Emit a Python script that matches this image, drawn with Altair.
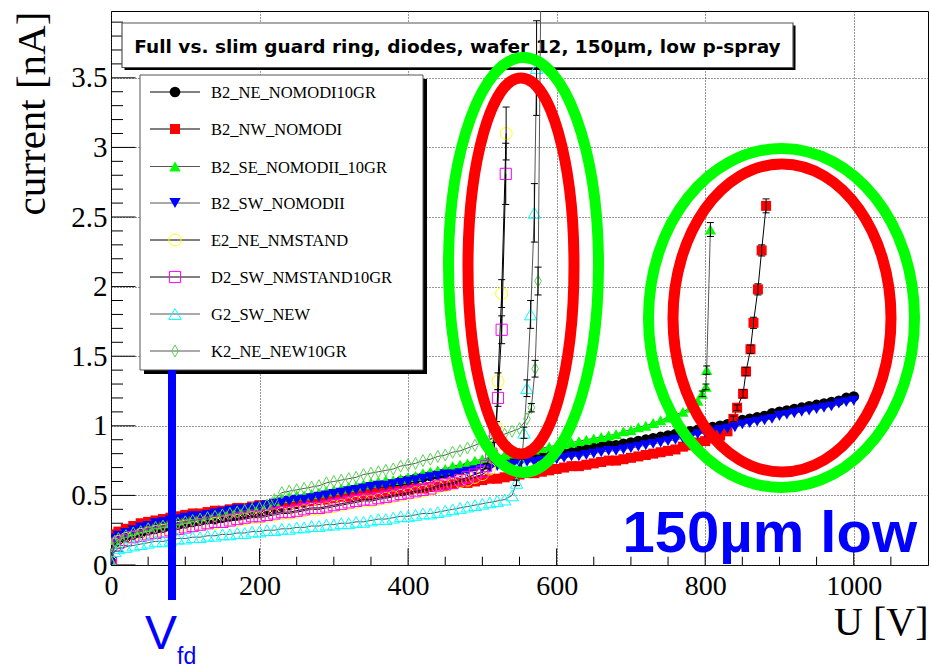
import altair as alt
import pandas as pd

# ---------------- data ----------------
VOLTS = [0, 5, 10, 20, 30, 40, 50, 60, 70, 80, 90, 100, 110, 120, 130, 140, 150, 160, 170, 180, 190,
         200, 210, 220, 230, 240, 250, 260, 270, 280, 290, 300, 310, 320, 330, 340, 350, 360, 370, 380,
         390, 400, 410, 420, 430, 440, 450, 460, 470, 480, 490, 500, 510, 520, 530, 540, 550, 560, 570,
         580, 590, 600, 610, 620, 630, 640, 650, 660, 670, 680, 690, 700, 710, 720, 730, 740, 750, 760,
         770, 780, 790, 800, 810, 820, 830, 840, 850, 860, 870, 880, 890, 900, 910, 920, 930, 940, 950,
         960, 970, 980, 990, 1000]

NAMES = ["B2_NE_NOMODI10GR", "B2_NW_NOMODI", "B2_SE_NOMODII_10GR", "B2_SW_NOMODII",
         "E2_NE_NMSTAND", "D2_SW_NMSTAND10GR", "G2_SW_NEW", "K2_NE_NEW10GR"]

I_B2_NE = [0.02, 0.16, 0.18, 0.20, 0.22, 0.23, 0.25, 0.26, 0.27, 0.28, 0.29, 0.30,
           0.31, 0.32, 0.33, 0.33, 0.34, 0.35, 0.36, 0.37, 0.38, 0.39,
           0.40, 0.41, 0.42, 0.43, 0.44, 0.45, 0.46, 0.47, 0.48, 0.49,
           0.50, 0.51, 0.53, 0.54, 0.55, 0.56, 0.57, 0.58, 0.60, 0.61,
           0.62, 0.63, 0.64, 0.65, 0.66, 0.67, 0.68, 0.70, 0.71, 0.72,
           0.73, 0.74, 0.74, 0.75, 0.76, 0.77, 0.77, 0.78, 0.78, 0.79,
           0.80, 0.81, 0.82, 0.83, 0.84, 0.85, 0.86, 0.86, 0.87, 0.88,
           0.89, 0.90, 0.91, 0.92, 0.93, 0.94, 0.95, 0.96, 0.97, 0.98,
           0.99, 1.00, 1.01, 1.03, 1.04, 1.05, 1.06, 1.07, 1.09, 1.10,
           1.11, 1.12, 1.13, 1.14, 1.15, 1.16, 1.17, 1.18, 1.20, 1.21]
I_B2_NW = [0.03, 0.22, 0.24, 0.26, 0.28, 0.30, 0.31, 0.32, 0.33, 0.34, 0.35, 0.36,
           0.37, 0.37, 0.38, 0.39, 0.39, 0.40, 0.41, 0.41, 0.42, 0.43,
           0.43, 0.44, 0.44, 0.45, 0.45, 0.46, 0.46, 0.47, 0.47, 0.48,
           0.49, 0.49, 0.50, 0.50, 0.51, 0.52, 0.52, 0.53, 0.53, 0.54,
           0.55, 0.55, 0.56, 0.57, 0.57, 0.58, 0.59, 0.59, 0.60, 0.61,
           0.62, 0.62, 0.63, 0.64, 0.65, 0.66, 0.66, 0.67, 0.68, 0.69,
           0.70, 0.71, 0.71, 0.72, 0.73, 0.74, 0.75, 0.75, 0.76, 0.77,
           0.78, 0.79, 0.80, 0.81, 0.82, 0.83, 0.85, 0.86, 0.88, 0.89,
           0.91, 0.93, 0.96]
I_B2_SE = [0.02, 0.18, 0.20, 0.22, 0.24, 0.26, 0.27, 0.29, 0.30, 0.31, 0.32, 0.33,
           0.34, 0.35, 0.36, 0.37, 0.38, 0.39, 0.40, 0.41, 0.42, 0.43,
           0.44, 0.46, 0.48, 0.49, 0.50, 0.50, 0.51, 0.52, 0.53, 0.54,
           0.55, 0.56, 0.57, 0.58, 0.59, 0.60, 0.61, 0.61, 0.62, 0.63,
           0.64, 0.66, 0.67, 0.68, 0.69, 0.71, 0.72, 0.73, 0.75, 0.76,
           0.77, 0.78, 0.79, 0.80, 0.81, 0.82, 0.83, 0.84, 0.85, 0.86,
           0.87, 0.88, 0.89, 0.90, 0.91, 0.92, 0.93, 0.94, 0.96, 0.97,
           0.99, 1.00, 1.02, 1.04, 1.06, 1.08, 1.10, 1.13, 1.18]
I_B2_SW = [0.02, 0.19, 0.21, 0.23, 0.25, 0.27, 0.28, 0.30, 0.31, 0.32, 0.33, 0.34,
           0.35, 0.35, 0.36, 0.37, 0.38, 0.39, 0.40, 0.40, 0.41, 0.42,
           0.43, 0.44, 0.45, 0.46, 0.47, 0.47, 0.48, 0.49, 0.50, 0.51,
           0.52, 0.53, 0.54, 0.55, 0.56, 0.57, 0.57, 0.58, 0.59, 0.60,
           0.61, 0.62, 0.63, 0.64, 0.65, 0.65, 0.66, 0.67, 0.68, 0.69,
           0.70, 0.71, 0.71, 0.72, 0.73, 0.74, 0.74, 0.75, 0.75, 0.76,
           0.77, 0.78, 0.78, 0.79, 0.80, 0.81, 0.82, 0.82, 0.83, 0.84,
           0.85, 0.86, 0.87, 0.88, 0.89, 0.90, 0.91, 0.92, 0.94, 0.95,
           0.96, 0.97, 0.98, 0.99, 1.01, 1.02, 1.03, 1.04, 1.05, 1.07,
           1.08, 1.09, 1.10, 1.11, 1.12, 1.13, 1.14, 1.16, 1.17, 1.18]
I_E2_NE = [0.02, 0.15, 0.17, 0.19, 0.20, 0.22, 0.23, 0.24, 0.25, 0.26, 0.27, 0.28,
           0.28, 0.29, 0.30, 0.30, 0.31, 0.32, 0.32, 0.33, 0.34, 0.34,
           0.35, 0.36, 0.37, 0.37, 0.38, 0.39, 0.40, 0.40, 0.41, 0.42,
           0.43, 0.44, 0.45, 0.46, 0.46, 0.47, 0.48, 0.49, 0.50, 0.51,
           0.52, 0.53, 0.54, 0.56, 0.57, 0.58, 0.60, 0.61, 0.63, 0.65,
           0.69]
I_D2_SW = [0.02, 0.14, 0.16, 0.18, 0.20, 0.21, 0.22, 0.23, 0.24, 0.25, 0.26, 0.27,
           0.28, 0.29, 0.30, 0.31, 0.31, 0.32, 0.33, 0.34, 0.35, 0.35,
           0.36, 0.37, 0.38, 0.38, 0.39, 0.40, 0.41, 0.41, 0.42, 0.43,
           0.44, 0.45, 0.46, 0.47, 0.47, 0.48, 0.49, 0.50, 0.51, 0.52,
           0.53, 0.54, 0.55, 0.57, 0.58, 0.59, 0.61, 0.63, 0.65, 0.67]
I_G2_SW = [0.02, 0.10, 0.12, 0.13, 0.14, 0.15, 0.16, 0.17, 0.17, 0.18, 0.19, 0.19,
           0.20, 0.20, 0.21, 0.21, 0.22, 0.22, 0.23, 0.23, 0.24, 0.24,
           0.25, 0.25, 0.26, 0.26, 0.27, 0.27, 0.28, 0.28, 0.29, 0.29,
           0.30, 0.30, 0.31, 0.31, 0.32, 0.33, 0.33, 0.34, 0.35, 0.35,
           0.36, 0.37, 0.37, 0.38, 0.39, 0.40, 0.41, 0.42, 0.43, 0.44,
           0.45, 0.46, 0.47, 0.50]
I_K2_NE = [0.02, 0.17, 0.19, 0.21, 0.23, 0.24, 0.26, 0.27, 0.28, 0.29, 0.30, 0.31,
           0.32, 0.33, 0.34, 0.35, 0.36, 0.37, 0.38, 0.39, 0.40, 0.41,
           0.43, 0.47, 0.52, 0.53, 0.54, 0.55, 0.56, 0.57, 0.59, 0.60,
           0.61, 0.62, 0.63, 0.65, 0.66, 0.67, 0.68, 0.69, 0.71, 0.72,
           0.73, 0.75, 0.76, 0.78, 0.79, 0.81, 0.82, 0.84, 0.86, 0.88,
           0.90, 0.92, 0.94, 0.96, 0.98, 1.05]

# breakdown tails: voltage, current, error
TAIL_V = {
    "B2_NW_NOMODI": [838, 843, 851, 855, 861, 865, 871, 876, 882],
    "B2_SE_NOMODII_10GR": [796, 801, 802, 807],
    "E2_NE_NMSTAND": [516, 519, 521, 526, 532],
    "D2_SW_NMSTAND10GR": [505, 512, 517, 521, 526, 531.5],
    "G2_SW_NEW": [546, 553, 556, 560, 565, 570, 573],
    "K2_NE_NEW10GR": [566, 571, 575, 579],
}
TAIL_I = {
    "B2_NW_NOMODI": [1.05, 1.13, 1.23, 1.39, 1.55, 1.74, 1.98, 2.26, 2.58],
    "B2_SE_NOMODII_10GR": [1.23, 1.28, 1.40, 2.41],
    "E2_NE_NMSTAND": [0.85, 0.99, 1.32, 1.95, 3.10],
    "D2_SW_NMSTAND10GR": [0.71, 0.80, 0.95, 1.20, 1.69, 2.81],
    "G2_SW_NEW": [0.59, 0.73, 0.95, 1.27, 1.80, 2.53, 3.57],
    "K2_NE_NEW10GR": [1.13, 1.41, 2.04, 4.30],
}
TAIL_ERR = {
    "B2_NW_NOMODI": [0.02, 0.02, 0.03, 0.03, 0.03, 0.04, 0.04, 0.04, 0.05],
    "B2_SE_NOMODII_10GR": [0.02, 0.02, 0.03, 0.05],
    "E2_NE_NMSTAND": [0.03, 0.04, 0.06, 0.10, 0.19],
    "D2_SW_NMSTAND10GR": [0.02, 0.03, 0.04, 0.06, 0.10, 0.22],
    "G2_SW_NEW": [0.02, 0.03, 0.04, 0.06, 0.10, 0.21, 0.34],
    "K2_NE_NEW10GR": [0.03, 0.06, 0.10, 0.30],
}
MAIN_I = dict(zip(NAMES, [I_B2_NE, I_B2_NW, I_B2_SE, I_B2_SW, I_E2_NE, I_D2_SW, I_G2_SW, I_K2_NE]))

X_MAJOR = [0, 200, 400, 600, 800, 1000]
X_MINOR = [50, 100, 150, 250, 300, 350, 450, 500, 550, 650, 700, 750, 850, 900, 950, 1050]
Y_MAJOR = [0, 0.5, 1, 1.5, 2, 2.5, 3, 3.5]
Y_MINOR = [0.1, 0.2, 0.3, 0.4, 0.6, 0.7, 0.8, 0.9, 1.1, 1.2, 1.3, 1.4, 1.6, 1.7, 1.8, 1.9,
           2.1, 2.2, 2.3, 2.4, 2.6, 2.7, 2.8, 2.9, 3.1, 3.2, 3.3, 3.4, 3.6, 3.7, 3.8, 3.9]

# ---------------- layout / style ----------------
W, H = 817, 554
X_MAX, Y_MAX = 1100, 3.98
SERIF = "Liberation Serif"
SANS = "Liberation Sans"
BLUE = "#0000ff"

DIAMOND = "M0,-1L0.55,0L0,1L-0.55,0Z"
STYLES = {
    "B2_NE_NOMODI10GR": dict(shape="circle", filled=True, color="#000000", size=115, line="#000000"),
    "B2_NW_NOMODI": dict(shape="square", filled=True, color="#ff0000", size=100, line="#000000"),
    "B2_SE_NOMODII_10GR": dict(shape="triangle-up", filled=True, color="#00ff00", size=130, line="#555555"),
    "B2_SW_NOMODII": dict(shape="triangle-down", filled=True, color="#0000ff", size=130, line="#555555"),
    "E2_NE_NMSTAND": dict(shape="circle", filled=False, color="#ffff00", size=145, line="#000000"),
    "D2_SW_NMSTAND10GR": dict(shape="square", filled=False, color="#ff00ff", size=125, line="#000000"),
    "G2_SW_NEW": dict(shape="triangle-up", filled=False, color="#00ffff", size=155, line="#555555"),
    "K2_NE_NEW10GR": dict(shape=DIAMOND, filled=False, color="#59d454", size=145, line="#555555"),
}

X_SCALE = alt.Scale(domain=[0, X_MAX], nice=False, zero=False)
Y_SCALE = alt.Scale(domain=[0, Y_MAX], nice=False, zero=False)
X_AXIS = alt.Axis(values=X_MAJOR, format="d", tickSize=0, domain=False, grid=True, gridColor="#333333",
                  gridDash=[1, 2], gridWidth=1, labelFont=SERIF, labelFontSize=28, labelColor="#000",
                  labelPadding=7, labelFlush=False, labelOverlap=False, title="U [V]",
                  titleFont=SERIF, titleFontSize=40, titleFontWeight="normal", titleColor="#000",
                  titleX=W, titleY=69, titleAlign="right", titleBaseline="alphabetic")
Y_AXIS = alt.Axis(values=Y_MAJOR, format="~g", tickSize=0, domain=False, grid=True, gridColor="#333333",
                  gridDash=[1, 2], gridWidth=1, labelFont=SERIF, labelFontSize=29, labelColor="#000",
                  labelPadding=4, labelFlush=False, labelOverlap=False, title="current [nA]",
                  titleFont=SERIF, titleFontSize=41, titleFontWeight="normal", titleColor="#000",
                  titleAngle=270, titleX=-79, titleY=102, titleAlign="center", titleBaseline="middle")


def xq(field="V"):
    return alt.X(f"{field}:Q", scale=X_SCALE, axis=X_AXIS)


def yq(field="I"):
    return alt.Y(f"{field}:Q", scale=Y_SCALE, axis=Y_AXIS)


def one_row(**kw):
    return pd.DataFrame([kw if kw else {"k": 0}])


def marker(st):
    if st["filled"]:
        return dict(shape=st["shape"], filled=True, color=st["color"], size=st["size"],
                    opacity=1, strokeWidth=0)
    return dict(shape=st["shape"], filled=False, color=st["color"], size=st["size"],
                opacity=1, strokeWidth=1)


layers = []

# inside ticks (ROOT style)
layers.append(alt.Chart(pd.DataFrame({"I": Y_MAJOR})).mark_rule(color="#000", strokeWidth=1).encode(
    y=yq(), x=alt.value(0), x2=alt.value(24.5)))
layers.append(alt.Chart(pd.DataFrame({"I": Y_MINOR})).mark_rule(color="#000", strokeWidth=1).encode(
    y=yq(), x=alt.value(0), x2=alt.value(12)))
layers.append(alt.Chart(pd.DataFrame({"V": X_MAJOR})).mark_rule(color="#000", strokeWidth=1).encode(
    x=xq(), y=alt.value(H), y2=alt.value(H - 16.6)))
layers.append(alt.Chart(pd.DataFrame({"V": X_MINOR})).mark_rule(color="#000", strokeWidth=1).encode(
    x=xq(), y=alt.value(H), y2=alt.value(H - 8.3)))

# title box
TB = dict(x0=11, x1=682, y0=12, y1=56.5)
layers.append(alt.Chart(one_row()).mark_rect(color="#000").encode(
    x=alt.value(TB["x0"] + 2.5), x2=alt.value(TB["x1"] + 2.5),
    y=alt.value(TB["y0"] + 2.5), y2=alt.value(TB["y1"] + 2.5)))
layers.append(alt.Chart(one_row()).mark_rect(fill="#fff", stroke="#555", strokeWidth=1.2).encode(
    x=alt.value(TB["x0"]), x2=alt.value(TB["x1"]), y=alt.value(TB["y0"]), y2=alt.value(TB["y1"])))
layers.append(alt.Chart(one_row(t="Full vs. slim guard ring, diodes, wafer 12, 150μm, low p-spray"))
              .mark_text(font="DejaVu Sans", fontSize=18.5, fontWeight="bold", color="#000", align="center",
                         baseline="alphabetic")
              .encode(x=alt.value((TB["x0"] + TB["x1"]) / 2), y=alt.value(42.3), text="t:N"))

# data series
for name in NAMES:
    st = STYLES[name]
    vals = MAIN_I[name]
    v = VOLTS[:len(vals)] + TAIL_V.get(name, [])
    i = vals + TAIL_I.get(name, [])
    df = pd.DataFrame({"V": v, "I": i})
    layers.append(alt.Chart(df).mark_line(color=st["line"], strokeWidth=1, clip=True).encode(
        x=xq(), y=yq(), order="V:Q"))
    layers.append(alt.Chart(df).mark_point(clip=True, **marker(st)).encode(x=xq(), y=yq()))
    if name in TAIL_ERR:
        de = pd.DataFrame({"V": TAIL_V[name], "I": TAIL_I[name], "e": TAIL_ERR[name]})
        de["lo"] = de["I"] - de["e"]
        de["hi"] = de["I"] + de["e"]
        layers.append(alt.Chart(de).mark_rule(color="#000", strokeWidth=1, clip=True).encode(
            x=xq(), y=yq("lo"), y2="hi:Q"))
        for f in ["lo", "hi"]:
            layers.append(alt.Chart(de).mark_point(shape="M-1,0L1,0", filled=False, color="#000",
                                                   size=49, strokeWidth=1, opacity=1, clip=True)
                          .encode(x=xq(), y=yq(f)))

# legend
LG = dict(x0=29, x1=312, y0=64, y1=359)
ROW_Y = [81, 118, 155.5, 192, 229, 266, 303, 340]
layers.append(alt.Chart(one_row()).mark_rect(color="#000").encode(
    x=alt.value(LG["x0"] + 4), x2=alt.value(LG["x1"] + 4),
    y=alt.value(LG["y0"] + 4), y2=alt.value(LG["y1"] + 4)))
layers.append(alt.Chart(one_row()).mark_rect(fill="#fff", stroke="#555", strokeWidth=1).encode(
    x=alt.value(LG["x0"]), x2=alt.value(LG["x1"]), y=alt.value(LG["y0"]), y2=alt.value(LG["y1"])))
for name, ry in zip(NAMES, ROW_Y):
    st = STYLES[name]
    layers.append(alt.Chart(one_row()).mark_rule(color=st["line"], strokeWidth=1).encode(
        x=alt.value(39), x2=alt.value(89), y=alt.value(ry)))
    layers.append(alt.Chart(one_row()).mark_point(**marker(st)).encode(
        x=alt.value(64), y=alt.value(ry)))
    layers.append(alt.Chart(one_row(t=name)).mark_text(
        font=SERIF, fontSize=16.5, color="#000", align="left", baseline="middle").encode(
        x=alt.value(100), y=alt.value(ry + 1), text="t:N"))

# V_fd annotation
layers.append(alt.Chart(one_row()).mark_rule(color=BLUE, strokeWidth=8).encode(
    x=alt.value(61), y=alt.value(359), y2=alt.value(589)))
layers.append(alt.Chart(one_row(t="V")).mark_text(
    font=SANS, fontSize=48, color=BLUE, align="left", baseline="alphabetic").encode(
    x=alt.value(34), y=alt.value(638), text="t:N"))
layers.append(alt.Chart(one_row(t="fd")).mark_text(
    font=SANS, fontSize=23, color=BLUE, align="left", baseline="alphabetic").encode(
    x=alt.value(66), y=alt.value(653), text="t:N"))

# big label
layers.append(alt.Chart(one_row(t="150µm low")).mark_text(
    font=SANS, fontSize=58, fontWeight="bold", color=BLUE, align="right", baseline="alphabetic").encode(
    x=alt.value(806), y=alt.value(541), text="t:N"))

# ellipses (cx, cy, rx, ry in px of the plot area)
ELLIPSES = [
    ("#00ff00", 412.5, 254, 75, 207.5),
    ("#ff0000", 410, 255, 53, 188),
    ("#00ff00", 670.5, 307, 133, 169.5),
    ("#ff0000", 671, 307, 109, 154),
]
for col, cx, cy, rx, ry in ELLIPSES:
    a = rx / ry
    path = f"M0,-1A{a:.4f},1,0,1,1,0,1A{a:.4f},1,0,1,1,0,-1Z"
    layers.append(alt.Chart(one_row()).mark_point(
        shape=path, filled=False, color=col, strokeWidth=11, opacity=1, size=(2 * ry) ** 2).encode(
        x=alt.value(cx), y=alt.value(cy)))

chart = alt.layer(*layers).properties(
    width=W, height=H,
    autosize=alt.AutoSizeParams(type="none"),
    padding={"left": 111, "top": 11, "right": 3, "bottom": 105},
    background="#ffffff",
).configure_view(stroke="#000", strokeWidth=1)

chart.save("out.html", embed_options={"renderer": "svg", "actions": False})
